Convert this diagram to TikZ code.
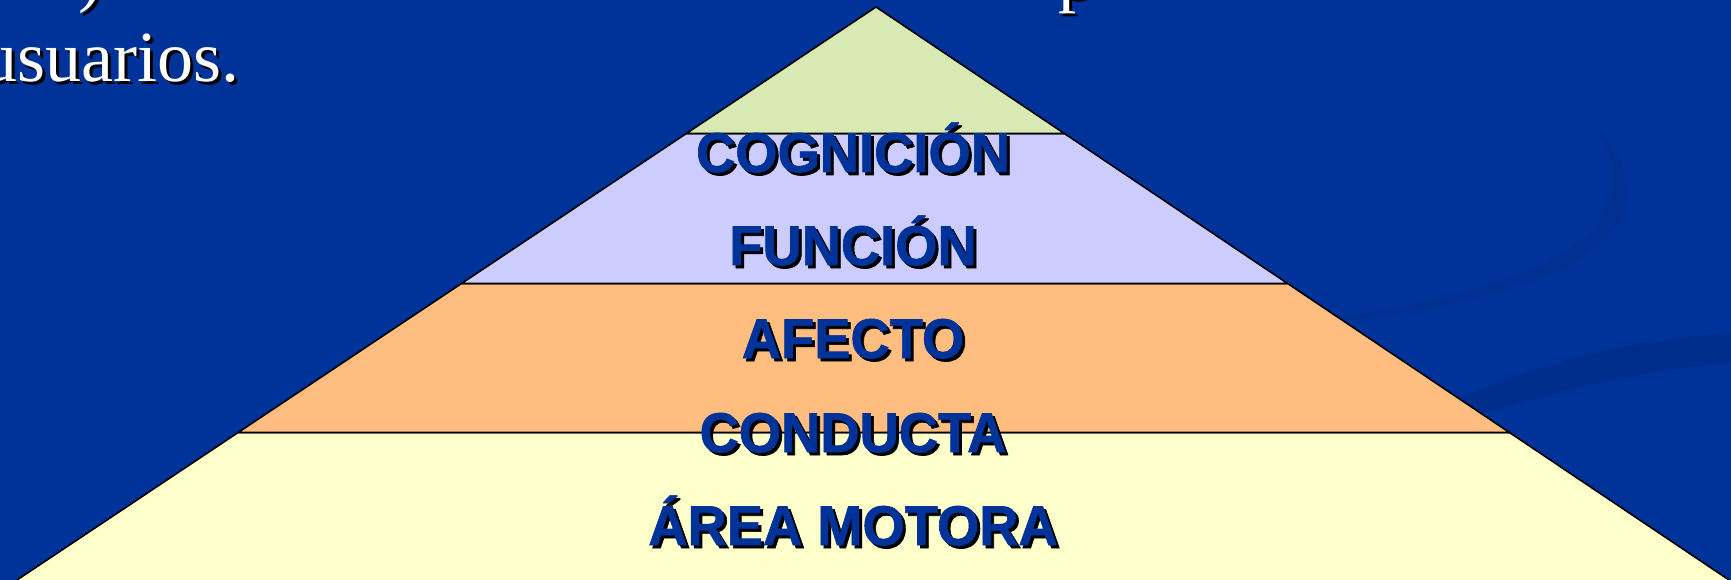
\documentclass[tikz,border=0pt]{standalone}
\usepackage{fontspec}
\setmainfont{Liberation Serif}
\newfontfamily\lblfont[FakeBold=1.2]{Liberation Sans Bold}
\usetikzlibrary{calc}
\definecolor{bg}{RGB}{0,51,153}
\definecolor{swoosh}{RGB}{0,46,140}
\definecolor{swooshb}{RGB}{0,48,145}
\definecolor{cTop}{RGB}{216,233,179}
\definecolor{cLav}{RGB}{204,204,255}
\definecolor{cOra}{RGB}{255,190,128}
\definecolor{cYel}{RGB}{255,255,204}
\definecolor{lblblue}{RGB}{0,51,153}
\tikzset{
  layer/.style={draw=black, line width=1.6pt, line join=round},
  lbl/.style={font=\lblfont\fontsize{56}{60}\selectfont, text=lblblue, anchor=base, inner sep=0pt},
  lblsh/.style={lbl, text=black},
  body/.style={font=\fontsize{72}{86}\selectfont, text=white, anchor=base west, inner sep=0pt},
  bodysh/.style={body, text=black}
}
\begin{document}
\begin{tikzpicture}[x=1pt,y=-1pt]
\useasboundingbox (0,0) rectangle (1731,580);
\fill[bg] (0,0) rectangle (1731,580);
% faint background swooshes
\fill[swoosh] (1400,425) .. controls (1500,375) and (1600,342) .. (1731,333) -- (1731,363) .. controls (1620,372) and (1530,398) .. (1400,440) -- cycle;
\fill[swooshb] (1598,128) .. controls (1660,195) and (1650,285) .. (1340,322) -- (1340,317) .. controls (1618,276) and (1634,200) .. (1598,128) -- cycle;
% text lines
\node[bodysh] (pshadow) at (81,2) {)};
\node[body] (paren) at (78,-1) {)};
\node[bodysh] (pcharsh) at (1061,2) {p};
\node[body] (pchar) at (1058,-1) {p};
\node[bodysh] (usush) at (-16,85) {usuarios.};
\node[body] (usu) at (-19,82) {usuarios.};
% pyramid
\coordinate (A) at (876,7);
\coordinate (BL) at (17,580);
\coordinate (BR) at (1729,580);
\coordinate (L1) at ($(A)!0.2208!(BL)$);
\coordinate (R1) at ($(A)!0.2208!(BR)$);
\coordinate (L2) at ($(A)!0.4825!(BL)$);
\coordinate (R2) at ($(A)!0.4825!(BR)$);
\coordinate (L3) at ($(A)!0.7426!(BL)$);
\coordinate (R3) at ($(A)!0.7426!(BR)$);
\coordinate (L4) at ($(A)!1.05!(BL)$);
\coordinate (R4) at ($(A)!1.05!(BR)$);
\fill[cYel] (L3) -- (R3) -- (R4) -- (L4) -- cycle;
\draw[layer] (L4) -- (L3) -- (R3) -- (R4);
\filldraw[layer, fill=cOra] (L2) -- (R2) -- (R3) -- (L3) -- cycle;
\filldraw[layer, fill=cLav] (L1) -- (R1) -- (R2) -- (L2) -- cycle;
\filldraw[layer, fill=cTop] (A) -- (R1) -- (L1) -- cycle;
% labels
\node[lblsh] (s1) at (856,175) {\scalebox{0.97}[1]{COGNICIÓN}};
\node[lbl] (t1) at (853,172) {\scalebox{0.97}[1]{COGNICIÓN}};
\node[lblsh] (s2) at (856,268) {\scalebox{0.97}[1]{FUNCIÓN}};
\node[lbl] (t2) at (853,265) {\scalebox{0.97}[1]{FUNCIÓN}};
\node[lblsh] (s3) at (856,361) {\scalebox{0.97}[1]{AFECTO}};
\node[lbl] (t3) at (853,358) {\scalebox{0.97}[1]{AFECTO}};
\node[lblsh] (s4) at (856,455) {\scalebox{0.97}[1]{CONDUCTA}};
\node[lbl] (t4) at (853,452) {\scalebox{0.97}[1]{CONDUCTA}};
\node[lblsh] (s5) at (856,548) {\scalebox{0.97}[1]{ÁREA MOTORA}};
\node[lbl] (t5) at (853,545) {\scalebox{0.97}[1]{ÁREA MOTORA}};
\end{tikzpicture}
\end{document}
